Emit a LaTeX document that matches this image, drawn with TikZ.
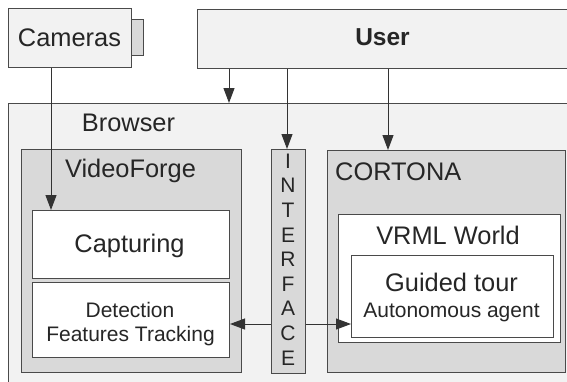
\documentclass[tikz,border=0pt]{standalone}
\usepackage{fontspec}
\setmainfont{Liberation Sans}
\usetikzlibrary{arrows.meta}
\definecolor{lineg}{HTML}{4A4A4A}
\definecolor{lightg}{HTML}{F2F2F2}
\definecolor{midg}{HTML}{D9D9D9}
\tikzset{
  box/.style={draw=lineg, line width=1pt, inner sep=0pt, anchor=north west},
  big/.style={font=\fontsize{25.4}{30}\selectfont, inner sep=0pt, text=black!85},
  small/.style={font=\fontsize{21}{24.6}\selectfont, inner sep=0pt, text=black!85},
  arr/.style={draw=black!80, line width=1pt, -{Triangle[length=15pt,width=11pt]}},
  ln/.style={draw=black!80, line width=1pt},
}
\begin{document}
\begin{tikzpicture}[x=1pt,y=-1pt]
\useasboundingbox (0,0) rectangle (567,381);
\clip (0,0) rectangle (567,381);
% top boxes
\node[box, fill=midg, minimum width=12pt, minimum height=36pt] (camtab) at (131,19) {};
\node[box, fill=lightg, minimum width=123pt, minimum height=59pt] (cam) at (8,8) {};
\node[big, anchor=base] (camt) at (69.5,46) {Cameras};
\node[box, fill=lightg, minimum width=375pt, minimum height=59pt] (user) at (197,9) {};
\node[big, anchor=base, font=\fontsize{24.5}{30}\selectfont\bfseries] (usert) at (382.5,45.5) {User};
% browser
\node[box, fill=lightg, minimum width=580pt, minimum height=300pt] (browser) at (8,103) {};
\node[big, anchor=base] (browsert) at (128.5,131.5) {Browser};
% VideoForge
\node[box, fill=midg, minimum width=220pt, minimum height=223pt] (vf) at (21,149) {};
\node[big, anchor=base] (vft) at (130.5,177) {VideoForge};
\node[box, fill=white, minimum width=197pt, minimum height=68pt] (cap) at (32,210) {};
\node[big, anchor=base] (capt) at (129.5,252) {Capturing};
\node[box, fill=white, minimum width=197pt, minimum height=75pt] (det) at (32,282) {};
\node[small, anchor=base] (dett1) at (130,317) {Detection};
\node[small, anchor=base] (dett2) at (130.5,341.5) {Features Tracking};
% Interface
\node[box, fill=midg, minimum width=34pt, minimum height=224pt] (intf) at (271,149) {};
\foreach \l [count=\i from 0] in {I,N,T,E,R,F,A,C,E}
  \node[small, anchor=base] (if\i) at (288,168.3+24.6*\i) {\l};
% CORTONA
\node[box, fill=midg, minimum width=238pt, minimum height=222pt] (cort) at (327,150) {};
\node[big, anchor=base west] (cortt) at (335,180) {CORTONA};
\node[box, fill=white, minimum width=222pt, minimum height=128pt] (vrml) at (338,214) {};
\node[big, anchor=base] (vrmlt) at (448,244) {VRML World};
\node[box, fill=white, minimum width=202pt, minimum height=82pt] (guided) at (351,255) {};
\node[big, anchor=base] (gt1) at (451.5,291.5) {Guided tour};
\node[small, anchor=base] (gt2) at (451.5,317) {Autonomous agent};
% arrows
\draw[arr] (51,0 |- cam.south) -- (51,0 |- cap.north);
\draw[arr] (229,0 |- user.south) -- (229,0 |- browser.north);
\draw[arr] (287,0 |- user.south) -- (287,0 |- intf.north);
\draw[arr] (388,0 |- user.south) -- (388,0 |- cort.north);
\draw[arr] (intf.west |- 0,324) -- (det.east |- 0,324);
\draw[arr] (intf.east |- 0,324) -- (guided.west |- 0,324);
\end{tikzpicture}
\end{document}
